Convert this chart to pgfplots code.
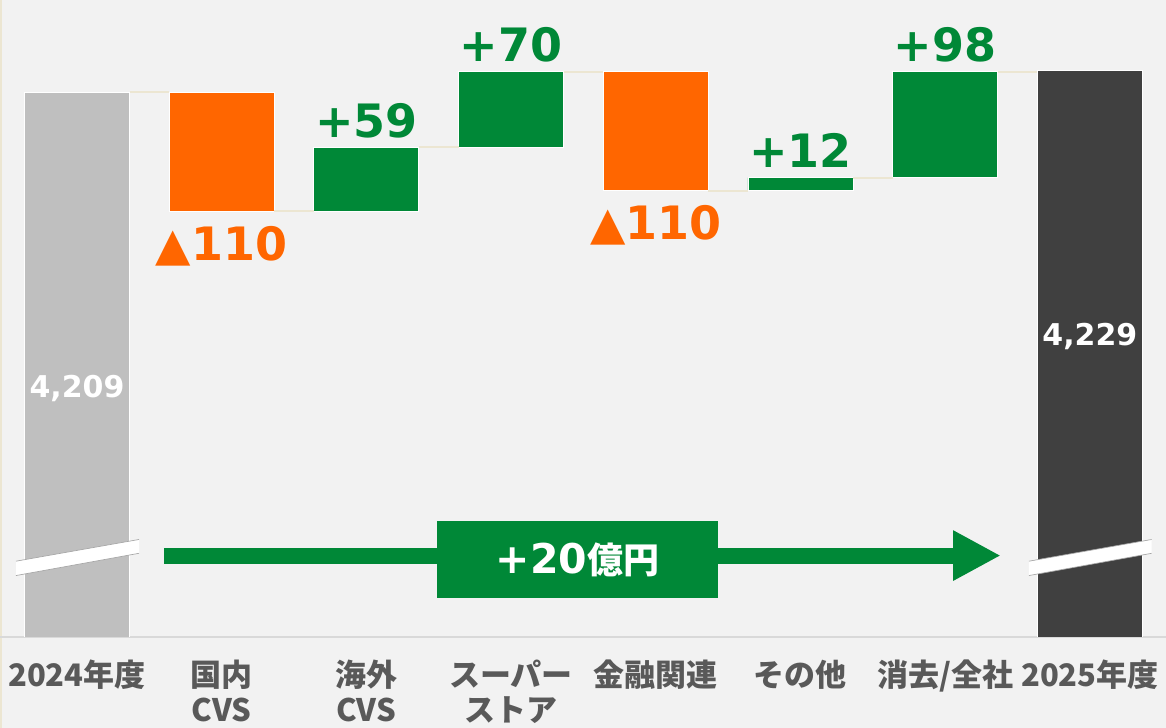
\documentclass[border=0pt]{standalone}
\usepackage{pgfplots}
\pgfplotsset{compat=1.18}
\usepackage{fontspec}
\usetikzlibrary{arrows.meta}
\newfontfamily\jp{Noto Sans CJK JP}
\newfontfamily\dv{DejaVu Sans}
\definecolor{bg}{HTML}{F2F2F2}
\definecolor{wfgreen}{HTML}{008837}
\definecolor{wforange}{HTML}{FF6600}
\definecolor{wfgray}{HTML}{BFBFBF}
\definecolor{wfdark}{HTML}{404040}
\definecolor{lbl}{HTML}{595959}
\definecolor{conn}{HTML}{ECE6D2}
\definecolor{axl}{HTML}{D9D9D9}
\pgfplotsset{
  common/.style={at={(0,0)}, anchor=north west, scale only axis,
    width=699.6pt, height=382.2pt,
    xmin=-0.532, xmax=7.526, ymin=3704.7, ymax=4294.5},
}
\begin{document}
\begin{tikzpicture}
\fill[bg] (0,0) rectangle (699.6pt,-436.8pt);
\draw[conn, line width=1.2pt] (0.6pt,0) -- (0.6pt,-436.8pt);
\begin{axis}[common,
  axis x line=bottom, axis y line=none,
  x axis line style={draw=axl, line width=1.2pt, -},
  ytick=\empty,
  xtick={0,1,2,3,4,5,6,7}, major tick length=0pt,
  xticklabels={2024年度, {国内\\CVS}, {海外\\CVS}, {スーパー\\ストア}, 金融関連, その他, 消去/全社, 2025年度},
  xticklabel style={font=\jp\bfseries\fontsize{18.6pt}{21pt}\selectfont, text=lbl, align=center, anchor=north, inner sep=0pt, yshift=-13.6pt},
  ybar stacked, bar width=0.726,
  every axis plot/.append style={line width=0.5pt},
]
% invisible base
\addplot[draw=none, fill=none] coordinates {(0,0) (1,4099) (2,4099) (3,4158) (4,4118) (5,4118) (6,4130) (7,0)};
% 2024 total
\addplot[fill=wfgray, draw=white] coordinates {(0,4209) (1,0) (2,0) (3,0) (4,0) (5,0) (6,0) (7,0)};
% 2025 total
\addplot[fill=wfdark, draw=white] coordinates {(0,0) (1,0) (2,0) (3,0) (4,0) (5,0) (6,0) (7,4229)};
% decreases
\addplot[fill=wforange, draw=white] coordinates {(0,0) (1,110) (2,0) (3,0) (4,110) (5,0) (6,0) (7,0)};
% increases
\addplot[fill=wfgreen, draw=white] coordinates {(0,0) (1,0) (2,59) (3,70) (4,0) (5,12) (6,98) (7,0)};
\end{axis}
\begin{axis}[common, hide axis, clip=false]
% connectors
\addplot[conn, line width=1.2pt, unbounded coords=jump] coordinates {
 (0.363,4209) (0.637,4209) (1,nan)
 (1.363,4099) (1.637,4099) (2,nan)
 (2.363,4158) (2.637,4158) (3,nan)
 (3.363,4228) (3.637,4228) (4,nan)
 (4.363,4118) (4.637,4118) (5,nan)
 (5.363,4130) (5.637,4130) (6,nan)
 (6.363,4228) (6.637,4228)};
% axis break marks
\addplot[fill=white, draw=none] coordinates {(-0.4214,3761.6) (0.4286,3782.2) (0.4286,3795.0) (-0.4214,3774.9)} -- cycle;
\addplot[fill=white, draw=none] coordinates {(6.579,3761.6) (7.427,3782.2) (7.427,3795.0) (6.579,3774.9)} -- cycle;
\addplot[gray!70, line width=0.4pt, unbounded coords=jump] coordinates {
 (-0.4214,3761.6) (0.4286,3782.2) (0,nan) (-0.4214,3774.9) (0.4286,3795.0) (0,nan)
 (6.579,3761.6) (7.427,3782.2) (7,nan) (6.579,3774.9) (7.427,3795.0)};
% total change arrow
\addplot[wfgreen, line width=9.6pt, -{Triangle[length=28.6pt, width=28.2pt]}] coordinates {(0.6035,3780.1) (6.384,3780.1)};
\node[fill=wfgreen, minimum width=168.6pt, minimum height=46.2pt, inner sep=0pt, text=white] at (axis cs:3.459,3776.4)
  {\dv\bfseries\fontsize{24.6pt}{28pt}\selectfont +20{\jp\bfseries\fontsize{21.6pt}{26pt}\selectfont 億円}};
% value labels
\begin{scope}[every node/.style={anchor=base, inner sep=0pt, font=\dv\bfseries\fontsize{27.6pt}{32pt}\selectfont}]
\node[text=wfgreen, yshift=6pt] at (axis cs:2,4158) {+59};
\node[text=wfgreen, yshift=6pt] at (axis cs:3,4228) {+70};
\node[text=wfgreen, yshift=6pt] at (axis cs:5,4130) {+12};
\node[text=wfgreen, yshift=6pt] at (axis cs:6,4228) {+98};
\node[text=wforange, yshift=-29.4pt] at (axis cs:1,4099) {▲110};
\node[text=wforange, yshift=-29.6pt] at (axis cs:4,4118) {▲110};
\end{scope}
\begin{scope}[every node/.style={anchor=base, inner sep=0pt, text=white, font=\dv\bfseries\fontsize{18pt}{22pt}\selectfont}]
\node at (axis cs:0,3926.9) {4,209};
\node at (axis cs:7,3975) {4,229};
\end{scope}
\end{axis}
\pgfresetboundingbox
\path (0,0) rectangle (699.6pt,-436.8pt);
\end{tikzpicture}
\end{document}
